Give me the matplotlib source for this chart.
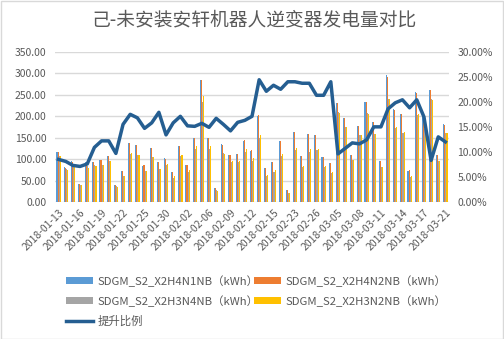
import matplotlib
matplotlib.use("Agg")
import matplotlib.pyplot as plt
import numpy as np
from matplotlib.patches import Rectangle
from matplotlib.lines import Line2D
from matplotlib.ticker import FuncFormatter, MultipleLocator

plt.rcParams['font.family'] = ['Noto Sans CJK SC', 'DejaVu Sans']

# --- data ---
dates = ["2018-01-13", "2018-01-14", "2018-01-15", "2018-01-16", "2018-01-17", "2018-01-18",
         "2018-01-19", "2018-01-20", "2018-01-21", "2018-01-22", "2018-01-23", "2018-01-24",
         "2018-01-25", "2018-01-27", "2018-01-28", "2018-01-30", "2018-01-31", "2018-02-01",
         "2018-02-02", "2018-02-03", "2018-02-05", "2018-02-06", "2018-02-07", "2018-02-08",
         "2018-02-09", "2018-02-10", "2018-02-11", "2018-02-12", "2018-02-13", "2018-02-14",
         "2018-02-15", "2018-02-21", "2018-02-22", "2018-02-23", "2018-02-24", "2018-02-25",
         "2018-02-26", "2018-02-27", "2018-03-01", "2018-03-05", "2018-03-06", "2018-03-07",
         "2018-03-08", "2018-03-09", "2018-03-10", "2018-03-11", "2018-03-12", "2018-03-13",
         "2018-03-14", "2018-03-15", "2018-03-16", "2018-03-17", "2018-03-18", "2018-03-20",
         "2018-03-21"]

x2h4n1 = [116, 82, 96, 42, 92, 93, 98, 107, 40, 72, 137, 133, 84, 126, 94, 103, 70, 130, 86, 149,
          285, 149, 33, 135, 109, 112, 142, 119, 200, 79, 93, 142, 29, 163, 107, 158, 156, 105, 91,
          230, 195, 109, 177, 234, 186, 96, 295, 216, 204, 72, 255, 203, 260, 109, 181]
x2h4n2 = [116, 80, 94, 42, 92, 93, 98, 107, 40, 72, 137, 133, 86, 126, 94, 100, 70, 130, 86, 149,
          285, 149, 33, 133, 109, 112, 144, 121, 202, 79, 93, 142, 29, 163, 107, 158, 156, 105, 91,
          230, 195, 109, 177, 234, 186, 96, 292, 214, 204, 75, 253, 200, 260, 109, 179]
x2h3n4 = [107, 76, 86, 40, 84, 86, 86, 96, 38, 61, 111, 109, 72, 105, 77, 86, 57, 106, 70, 123,
          234, 123, 29, 114, 93, 93, 116, 96, 149, 61, 70, 107, 22, 121, 82, 116, 121, 82, 68,
          209, 174, 98, 156, 207, 158, 82, 239, 172, 160, 59, 202, 170, 239, 96, 160]
x2h3n2 = [107, 75, 82, 40, 80, 83, 86, 96, 36, 61, 114, 109, 72, 105, 77, 88, 61, 110, 75, 130,
          248, 130, 26, 112, 96, 96, 123, 103, 156, 63, 75, 112, 22, 126, 84, 123, 123, 84, 70,
          207, 174, 98, 156, 204, 158, 82, 241, 174, 163, 61, 204, 168, 237, 95, 160]
ratio = [8.5, 8.1, 7.3, 7.1, 7.6, 10.9, 12.2, 12.2, 9.7, 15.5, 17.5, 16.8, 14.7, 15.8, 17.9, 13.4,
         15.8, 17.1, 15.2, 15.1, 15.7, 14.9, 16.7, 15.5, 14.2, 15.9, 16.3, 17.1, 24.4, 22.1, 23.3,
         22.5, 24.0, 24.0, 23.7, 23.7, 21.3, 21.3, 24.0, 9.6, 10.7, 11.8, 11.6, 12.4, 15.0, 15.0,
         18.6, 19.8, 20.4, 18.8, 20.4, 17.0, 8.3, 13.0, 12.0]

series_names = ["SDGM_S2_X2H4N1NB（kWh）", "SDGM_S2_X2H4N2NB（kWh）",
                "SDGM_S2_X2H3N4NB（kWh）", "SDGM_S2_X2H3N2NB（kWh）"]
line_name = "提升比例"
colors = ["#5B9BD5", "#ED7D31", "#A5A5A5", "#FFC000"]
line_color = "#255E91"
txt = "#595959"
grid = "#D9D9D9"

fig = plt.figure(figsize=(5.04, 3.39), dpi=100)
fig.patches.append(Rectangle((0.001, 0.001), 0.997, 0.996, transform=fig.transFigure,
                             fill=False, edgecolor=grid, linewidth=1))
ax = fig.add_axes([55 / 504, 1 - 202 / 339, 394 / 504, 150.3 / 339])

x = np.arange(len(dates))
bw = 0.15
handles = []
for k, vals in enumerate([x2h4n1, x2h4n2, x2h3n4, x2h3n2]):
    b = ax.bar(x + (k - 1.5) * bw, vals, bw, color=colors[k], zorder=2)
    handles.append(b)

ax.set_xlim(-0.5, len(dates) - 0.5)
ax.set_ylim(0, 350)
ax.yaxis.set_major_locator(MultipleLocator(50))
ax.yaxis.set_major_formatter(FuncFormatter(lambda v, p: f"{v:.2f}"))
ax.grid(axis="y", color=grid, linewidth=1, zorder=0)
for s in ax.spines.values():
    s.set_visible(False)
ax.tick_params(length=0, labelsize=7.5, labelcolor=txt)
ax.set_xticks(x[::3])
ax.set_xticklabels(dates[::3], rotation=45, ha="right", va="top", rotation_mode="anchor",
                   fontsize=7.5)
ax.tick_params(axis="x", pad=4)
ax.tick_params(axis="y", pad=6)

ax2 = ax.twinx()
ax2.plot(x, ratio, color=line_color, linewidth=2.5, zorder=3)
ax2.set_ylim(0, 30)
ax2.yaxis.set_major_locator(MultipleLocator(5))
ax2.yaxis.set_major_formatter(FuncFormatter(lambda v, p: f"{v:.2f}%"))
for s in ax2.spines.values():
    s.set_visible(False)
ax2.tick_params(length=0, labelsize=7.5, labelcolor=txt, pad=6)

fig.text(0.503, 1 - 20 / 339, "己-未安装安轩机器人逆变器发电量对比", ha="center", va="center",
         fontsize=13.5, color=txt)

lh = Line2D([], [], color=line_color, linewidth=2.5)
leg = fig.legend([handles[0], handles[2], lh, handles[1], handles[3]],
                 [series_names[0], series_names[2], line_name, series_names[1], series_names[3]],
                 ncol=2, loc="upper left", bbox_to_anchor=(66 / 504, 1 - 275 / 339),
                 frameon=False, fontsize=8.2, handlelength=2.4, handleheight=0.6,
                 handletextpad=0.35, columnspacing=-0.4, labelspacing=0.75, labelcolor=txt,
                 borderaxespad=0, borderpad=0)

fig.savefig("out.png", dpi=100)
